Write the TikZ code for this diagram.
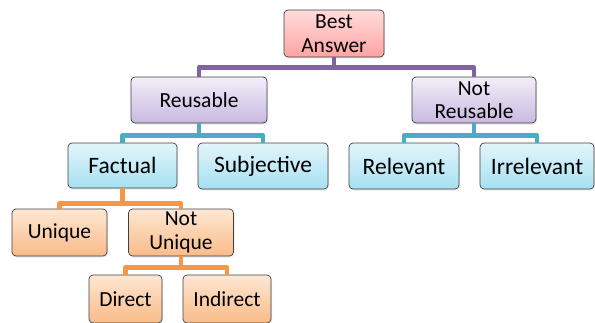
\documentclass[tikz,border=0pt]{standalone}
\usepackage{fontspec}
\setmainfont{Carlito}
\usetikzlibrary{shadows}
\definecolor{lpurple}{HTML}{8064A2}
\definecolor{lteal}{HTML}{4BACC6}
\definecolor{lorange}{HTML}{F79646}
\definecolor{bord}{HTML}{404040}
\definecolor{pinkT}{HTML}{FFDCDC}
\definecolor{pinkB}{HTML}{FFA3A3}
\definecolor{purT}{HTML}{F3EFF9}
\definecolor{purB}{HTML}{C8B8E0}
\definecolor{bluT}{HTML}{E3F5FB}
\definecolor{bluB}{HTML}{A6E0F2}
\definecolor{oraT}{HTML}{FDE7D3}
\definecolor{oraB}{HTML}{F9BB88}
\tikzset{
  box/.style={draw=bord, line width=0.7pt, rounded corners=4pt, align=center,
    inner sep=0pt, font=\fontsize{21.5}{23.5}\selectfont,
    drop shadow={shadow xshift=1pt, shadow yshift=-1.5pt, opacity=0.18}},
  pinkbox/.style={box, top color=pinkT, bottom color=pinkB},
  purbox/.style={box, top color=purT, bottom color=purB},
  blubox/.style={box, top color=bluT, bottom color=bluB, font=\fontsize{23.5}{25}\selectfont},
  orabox/.style={box, top color=oraT, bottom color=oraB},
  conn/.style={line width=4.5pt, line join=round},
}
\begin{document}
\begin{tikzpicture}[x=1pt,y=-1pt]
\useasboundingbox (0,0) rectangle (595,322);
\node[pinkbox, minimum width=100pt, minimum height=47pt] (best) at (334,33.5) {Best\\Answer};
\node[purbox, minimum width=136pt, minimum height=46pt] (reus) at (199,100) {Reusable};
\node[purbox, minimum width=124pt, minimum height=46pt] (notr) at (474,100) {Not\\Reusable};
\node[blubox, minimum width=109pt, minimum height=45pt] (fact) at (122.5,165.5) {Factual};
\node[blubox, minimum width=130pt, minimum height=46pt] (subj) at (263,166) {Subjective};
\node[blubox, minimum width=110pt, minimum height=46pt] (rel) at (404,166) {Relevant};
\node[blubox, minimum width=114pt, minimum height=46pt] (irr) at (537,166) {Irrelevant};
\node[orabox, minimum width=95pt, minimum height=47pt] (uniq) at (59.5,232.5) {Unique};
\node[orabox, minimum width=105pt, minimum height=47pt] (notu) at (181,232.5) {Not\\Unique};
\node[orabox, minimum width=73pt, minimum height=48pt] (dir) at (125.5,299) {Direct};
\node[orabox, minimum width=88pt, minimum height=48pt] (ind) at (227,299) {Indirect};
\draw[conn, lpurple] (best.south) -- ++(0,10) coordinate (pm) -| (reus.north);
\draw[conn, lpurple] (pm) -| (notr.north);
\draw[conn, lteal] (reus.south) -- ++(0,12) coordinate (tl) -| (fact.north);
\draw[conn, lteal] (tl) -| (subj.north);
\draw[conn, lteal] (notr.south) -- ++(0,12) coordinate (tr) -| (rel.north);
\draw[conn, lteal] (tr) -| (irr.north);
\draw[conn, lorange] (fact.south) -- ++(0,15) coordinate (ou) -| (uniq.north);
\draw[conn, lorange] (ou) -| (notu.north);
\draw[conn, lorange] (notu.south) -- ++(0,11) coordinate (od) -| (dir.north);
\draw[conn, lorange] (od) -| (ind.north);
\end{tikzpicture}
\end{document}
